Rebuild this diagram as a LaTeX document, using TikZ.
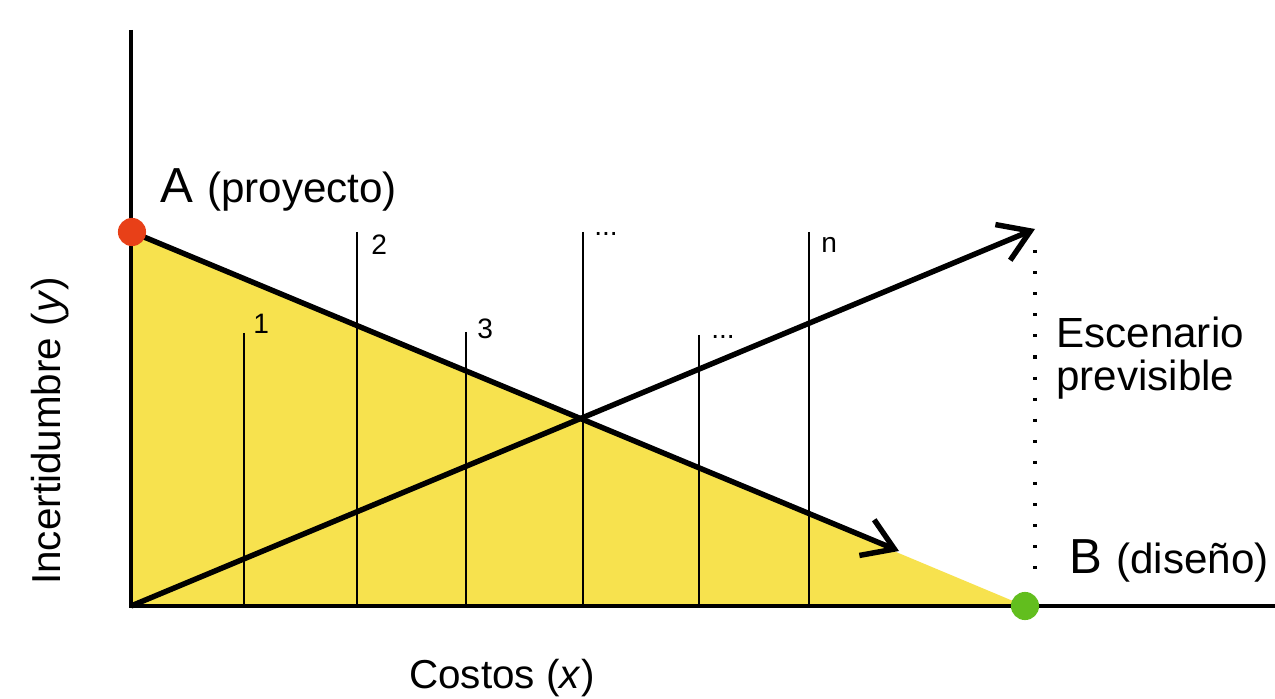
\documentclass[tikz,border=0pt]{standalone}
\usepackage{fontspec}
\setmainfont{Liberation Sans}
\usetikzlibrary{arrows.meta}
\definecolor{triyellow}{RGB}{247,226,78}
\definecolor{dotred}{RGB}{232,64,24}
\definecolor{dotgreen}{RGB}{98,190,30}
\begin{document}
\begin{tikzpicture}[x=0.02cm,y=-0.02cm,
  axis/.style={line width=2.8pt, line join=miter},
  mainarrow/.style={line width=3.1pt, -{Straight Barb[length=17pt,width=22pt]}},
  tickline/.style={line width=1.2pt},
  ticklabel/.style={anchor=base west, inner sep=0pt, font=\fontsize{16}{18}\selectfont},
  bigtext/.style={anchor=base west, inner sep=0pt, font=\fontsize{23}{26}\selectfont},
  scenetext/.style={anchor=base west, inner sep=0pt, font=\fontsize{24}{27}\selectfont},
  pointlabel/.style={anchor=base west, inner sep=0pt, font=\fontsize{28}{30}\selectfont},
  dotnode/.style={circle, inner sep=0pt, minimum size=16pt},
  foreseen/.style={line width=1.8pt, dash pattern=on 1.8pt off 10.2pt}
]
\useasboundingbox[fill=white] (0,0) rectangle (1275,699);
% key points
\coordinate (O) at (131,606);
\coordinate (ytop) at (131,30);
\coordinate (xend) at (1275,606);
\coordinate (Apt) at (132,232);
\coordinate (Bpt) at (1025,606);
\coordinate (fallend) at (899,551);
\coordinate (riseend) at (1035,229);
\coordinate (dtop) at (1035,250);
\coordinate (dbot) at (1035,578);
% triangle
\fill[triyellow] (O) -- (Apt) -- (Bpt) -- cycle;
% vertical scenario lines
\coordinate (t1) at (244,333); \coordinate (b1) at (244,606);
\coordinate (t2) at (357,232); \coordinate (b2) at (357,606);
\coordinate (t3) at (466,332); \coordinate (b3) at (466,606);
\coordinate (t4) at (583,232); \coordinate (b4) at (583,606);
\coordinate (t5) at (699,335); \coordinate (b5) at (699,606);
\coordinate (t6) at (809,232); \coordinate (b6) at (809,606);
\foreach \i in {1,...,6} { \draw[tickline] (t\i) -- (b\i); }
\node[ticklabel] (l1) at (253,334) {1};
\node[ticklabel] (l2) at (371,255) {2};
\node[ticklabel] (l3) at (477,338) {3};
\node[ticklabel] (l4) at (594,236) {...};
\node[ticklabel] (l5) at (711,338) {...};
\node[ticklabel] (l6) at (821,253) {n};
% axes
\draw[axis] (ytop) -- (O) -- (xend);
% dotted line
\draw[foreseen] (dtop) -- (dbot);
% arrows
\draw[mainarrow] (Apt) -- (fallend);
\draw[mainarrow] (O) -- (riseend);
% points
\node[dotnode, fill=dotred] (A) at (Apt) {};
\node[dotnode, fill=dotgreen] (B) at (Bpt) {};
% labels
\node[pointlabel] (Alabel) at (160,203) {A\fontsize{24}{28}\selectfont\hspace{8pt}(proyecto)};
\node[pointlabel] (Blabel) at (1069,573) {B\fontsize{24}{28}\selectfont\hspace{8pt}(diseño)};
\node[scenetext] (esc1) at (1056,347) {Escenario};
\node[scenetext] (esc2) at (1056,390) {previsible};
\node[bigtext] (xlabel) at (409,688) {Costos (\textit{x})};
\node[anchor=base, inner sep=0pt, rotate=90, font=\fontsize{23}{26}\selectfont] (ylabel) at (60,431) {Incertidumbre (\textit{y})};
\end{tikzpicture}
\end{document}
